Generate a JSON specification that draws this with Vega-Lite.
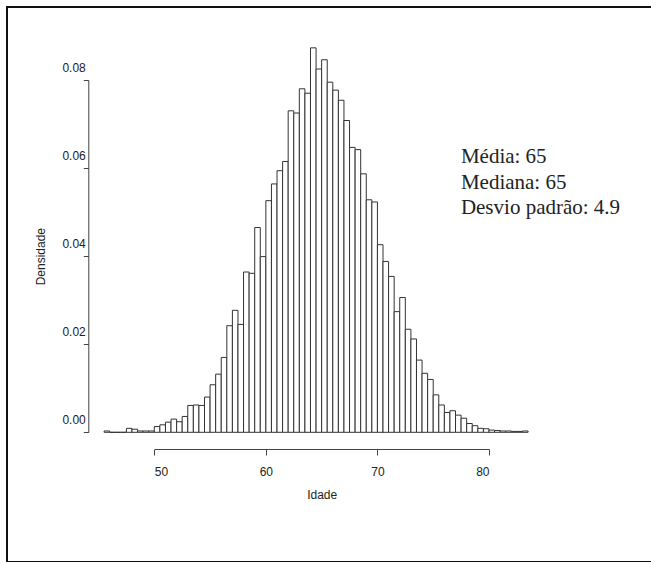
{
  "$schema": "https://vega.github.io/schema/vega-lite/v6.json",
  "width": 646,
  "height": 555,
  "autosize": {"type": "none"},
  "padding": {"left": 7, "top": 7, "right": 0, "bottom": 0},
  "background": "white",
  "config": {
    "view": {"stroke": "#111", "strokeWidth": 2},
    "axis": {"grid": false, "labelFont": "Liberation Sans", "titleFont": "Liberation Sans", "labelFontSize": 12, "titleFontSize": 12, "titleFontWeight": "normal", "labelColor": "#222", "titleColor": "#222", "domainColor": "#444", "tickColor": "#444", "domainWidth": 1, "tickWidth": 1}
  },
  "layer": [
    {
      "data": {"values": [
        {"start": 45.5, "end": 46.0, "density": 0.0003},
        {"start": 46.0, "end": 46.5, "density": 0.0},
        {"start": 46.5, "end": 47.0, "density": 0.0},
        {"start": 47.0, "end": 47.5, "density": 0.0},
        {"start": 47.5, "end": 48.0, "density": 0.0009},
        {"start": 48.0, "end": 48.5, "density": 0.0007},
        {"start": 48.5, "end": 49.0, "density": 0.0003},
        {"start": 49.0, "end": 49.5, "density": 0.0003},
        {"start": 49.5, "end": 50.0, "density": 0.0003},
        {"start": 50.0, "end": 50.5, "density": 0.0013},
        {"start": 50.5, "end": 51.0, "density": 0.0017},
        {"start": 51.0, "end": 51.5, "density": 0.0023},
        {"start": 51.5, "end": 52.0, "density": 0.0030},
        {"start": 52.0, "end": 52.5, "density": 0.0024},
        {"start": 52.5, "end": 53.0, "density": 0.0036},
        {"start": 53.0, "end": 53.5, "density": 0.0061},
        {"start": 53.5, "end": 54.0, "density": 0.0062},
        {"start": 54.0, "end": 54.5, "density": 0.0061},
        {"start": 54.5, "end": 55.0, "density": 0.0080},
        {"start": 55.0, "end": 55.5, "density": 0.0108},
        {"start": 55.5, "end": 56.0, "density": 0.0132},
        {"start": 56.0, "end": 56.5, "density": 0.0170},
        {"start": 56.5, "end": 57.0, "density": 0.0242},
        {"start": 57.0, "end": 57.5, "density": 0.0277},
        {"start": 57.5, "end": 58.0, "density": 0.0245},
        {"start": 58.0, "end": 58.5, "density": 0.0364},
        {"start": 58.5, "end": 59.0, "density": 0.0361},
        {"start": 59.0, "end": 59.5, "density": 0.0465},
        {"start": 59.5, "end": 60.0, "density": 0.0399},
        {"start": 60.0, "end": 60.5, "density": 0.0526},
        {"start": 60.5, "end": 61.0, "density": 0.0564},
        {"start": 61.0, "end": 61.5, "density": 0.0594},
        {"start": 61.5, "end": 62.0, "density": 0.0615},
        {"start": 62.0, "end": 62.5, "density": 0.0730},
        {"start": 62.5, "end": 63.0, "density": 0.0725},
        {"start": 63.0, "end": 63.5, "density": 0.0780},
        {"start": 63.5, "end": 64.0, "density": 0.0770},
        {"start": 64.0, "end": 64.5, "density": 0.0873},
        {"start": 64.5, "end": 65.0, "density": 0.0825},
        {"start": 65.0, "end": 65.5, "density": 0.0846},
        {"start": 65.5, "end": 66.0, "density": 0.0795},
        {"start": 66.0, "end": 66.5, "density": 0.0777},
        {"start": 66.5, "end": 67.0, "density": 0.0754},
        {"start": 67.0, "end": 67.5, "density": 0.0708},
        {"start": 67.5, "end": 68.0, "density": 0.0647},
        {"start": 68.0, "end": 68.5, "density": 0.0642},
        {"start": 68.5, "end": 69.0, "density": 0.0587},
        {"start": 69.0, "end": 69.5, "density": 0.0528},
        {"start": 69.5, "end": 70.0, "density": 0.0523},
        {"start": 70.0, "end": 70.5, "density": 0.0426},
        {"start": 70.5, "end": 71.0, "density": 0.0388},
        {"start": 71.0, "end": 71.5, "density": 0.0354},
        {"start": 71.5, "end": 72.0, "density": 0.0274},
        {"start": 72.0, "end": 72.5, "density": 0.0306},
        {"start": 72.5, "end": 73.0, "density": 0.0234},
        {"start": 73.0, "end": 73.5, "density": 0.0212},
        {"start": 73.5, "end": 74.0, "density": 0.0164},
        {"start": 74.0, "end": 74.5, "density": 0.0134},
        {"start": 74.5, "end": 75.0, "density": 0.0120},
        {"start": 75.0, "end": 75.5, "density": 0.0085},
        {"start": 75.5, "end": 76.0, "density": 0.0062},
        {"start": 76.0, "end": 76.5, "density": 0.0045},
        {"start": 76.5, "end": 77.0, "density": 0.0049},
        {"start": 77.0, "end": 77.5, "density": 0.0039},
        {"start": 77.5, "end": 78.0, "density": 0.0032},
        {"start": 78.0, "end": 78.5, "density": 0.0020},
        {"start": 78.5, "end": 79.0, "density": 0.0015},
        {"start": 79.0, "end": 79.5, "density": 0.0009},
        {"start": 79.5, "end": 80.0, "density": 0.0008},
        {"start": 80.0, "end": 80.5, "density": 0.0005},
        {"start": 80.5, "end": 81.0, "density": 0.0004},
        {"start": 81.0, "end": 81.5, "density": 0.0003},
        {"start": 81.5, "end": 82.0, "density": 0.0003},
        {"start": 82.0, "end": 82.5, "density": 0.0002},
        {"start": 82.5, "end": 83.0, "density": 0.0002},
        {"start": 83.0, "end": 83.5, "density": 0.0003}
      ]},
      "mark": {"type": "rect", "fill": "white", "stroke": "#333", "strokeWidth": 1},
      "encoding": {
        "x": {"field": "start", "type": "quantitative",
          "scale": {"domain": [50, 80], "range": [147.3, 482], "nice": false, "zero": false},
          "axis": {"title": "Idade", "values": [50, 60, 70, 80], "offset": -113, "tickSize": 6, "labelPadding": 11, "titlePadding": 12}},
        "x2": {"field": "end"},
        "y": {"field": "density", "type": "quantitative",
          "scale": {"domain": [0, 0.08], "range": [425.3, 73], "nice": false, "zero": false},
          "axis": {"title": "Densidade", "values": [0, 0.02, 0.04, 0.06, 0.08], "format": ".2f", "offset": -81.3, "tickSize": 5, "labelPadding": -2, "labelBaseline": "middle", "labelOffset": -13, "titlePadding": 14}},
        "y2": {"datum": 0}
      }
    },
    {
      "data": {"values": [{"label": "stats"}]},
      "mark": {"type": "text", "font": "Liberation Serif", "fontSize": 21, "align": "left", "baseline": "alphabetic", "lineHeight": 25.5, "color": "#222"},
      "encoding": {
        "x": {"datum": 77.48, "type": "quantitative"},
        "y": {"datum": 0.0611, "type": "quantitative"},
        "text": {"value": ["Média: 65", "Mediana: 65", "Desvio padrão: 4.9"]}
      }
    }
  ]
}
